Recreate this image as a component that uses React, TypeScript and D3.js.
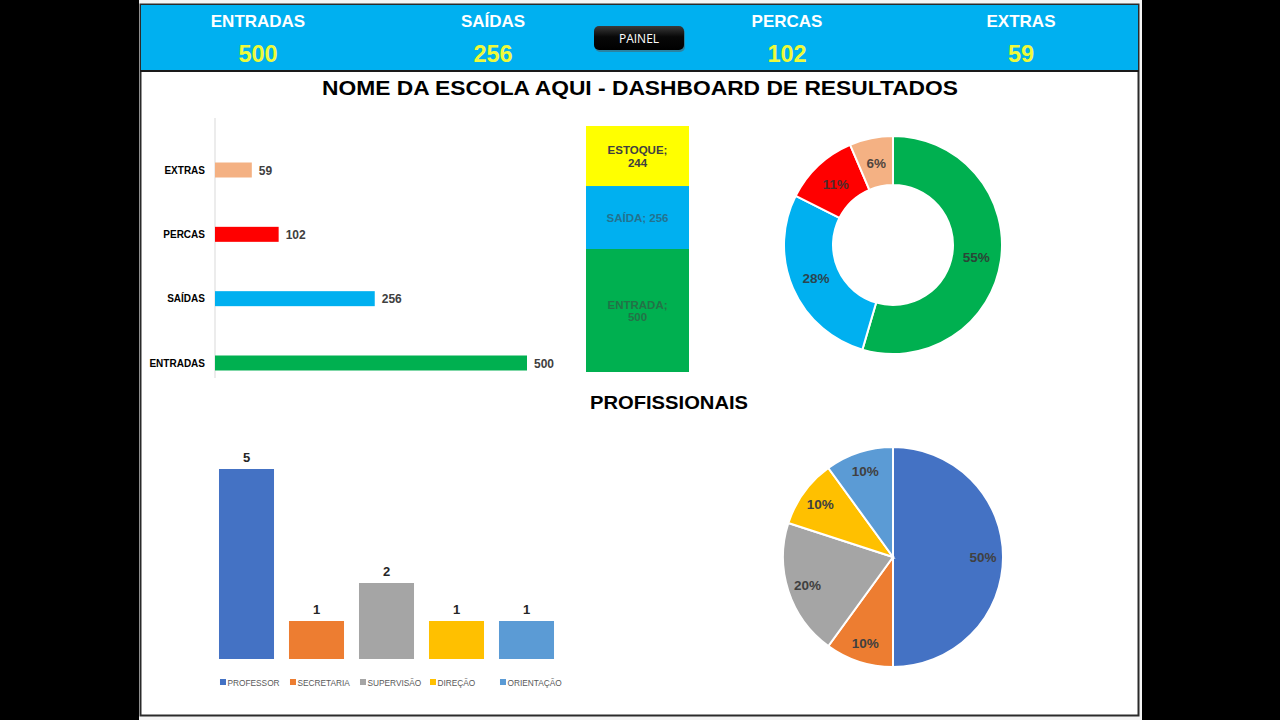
import React from "react";
import * as d3 from "d3";

const headerLabels = ["ENTRADAS", "SAÍDAS", "PERCAS", "EXTRAS"];
const headerValues = [500, 256, 102, 59];

const barCats = ["ENTRADAS", "SAÍDAS", "PERCAS", "EXTRAS"];
const barValues = [500, 256, 102, 59];
const barColors = ["#00B050", "#00B0F0", "#FF0000", "#F4B183"];

const stackCats = ["ENTRADA", "SAÍDA", "ESTOQUE"];
const stackValues = [500, 256, 244];
const stackColors = ["#00B050", "#00B0F0", "#FFFF00"];

const donutCats = ["ENTRADAS", "SAÍDAS", "PERCAS", "EXTRAS"];
const donutValues = [500, 256, 102, 59];
const donutColors = ["#00B050", "#00B0F0", "#FF0000", "#F4B183"];

const profCats = ["PROFESSOR", "SECRETARIA", "SUPERVISÃO", "DIREÇÃO", "ORIENTAÇÃO"];
const profValues = [5, 1, 2, 1, 1];
const profColors = ["#4472C4", "#ED7D31", "#A5A5A5", "#FFC000", "#5B9BD5"];

const FONT = "'Liberation Sans', Arial, sans-serif";

export default function App() {
  // Horizontal bars
  const hx = d3.scaleLinear().domain([0, 500]).range([215, 527]);
  const hy = d3.scalePoint<string>().domain(barCats).range([363, 170]);

  // Stacked column
  const sy = d3.scaleLinear().domain([0, 1000]).range([372, 126]);
  const cum: number[] = [];
  stackValues.reduce((a, v, i) => { cum[i] = a; return a + v; }, 0);

  // Donut
  const pie = d3.pie<number>().sort(null).value((d) => d);
  const donutArcs = pie(donutValues);
  const donutTotal = d3.sum(donutValues);
  const donutArc = d3.arc<d3.PieArcDatum<number>>().innerRadius(60).outerRadius(109);
  const donutLabel = d3.arc<d3.PieArcDatum<number>>().innerRadius(84).outerRadius(84);

  // Column chart
  const cx = d3.scaleBand<string>().domain(profCats).range([211.5, 561.5]).paddingInner(0.214).paddingOuter(0.107);
  const cy = d3.scaleLinear().domain([0, 5]).range([659, 469]);

  // Pie
  const pieArcs = pie(profValues);
  const profTotal = d3.sum(profValues);
  const pieArc = d3.arc<d3.PieArcDatum<number>>().innerRadius(0).outerRadius(110);
  const pieLabel = d3.arc<d3.PieArcDatum<number>>().innerRadius(90).outerRadius(90);

  const headerX = [258, 493, 787, 1021];
  const pct = d3.format(".0%");

  return (
    <div style={{ position: "absolute", left: 0, top: 0 }}>
      <svg width={1280} height={720} style={{ display: "block" }} fontFamily={FONT}>
        <defs>
          <linearGradient id="btn" x1="0" y1="0" x2="0" y2="1">
            <stop offset="0" stopColor="#3a3a3a" />
            <stop offset="0.45" stopColor="#080808" />
            <stop offset="1" stopColor="#000" />
          </linearGradient>
        </defs>
        <rect x={0} y={0} width={1280} height={720} fill="#000" />
        <rect x={139} y={0} width={1003} height={720} fill="#f4f4f4" />
        <rect x={140.5} y={4.5} width={998} height={711} fill="#fff" stroke="#2a2a2a" strokeWidth={2} />
        {/* Header */}
        <rect x={141} y={5} width={997} height={66} fill="#00B0F0" />
        <line x1={140} x2={1139} y1={71} y2={71} stroke="#1a1a1a" strokeWidth={2} />
        {headerLabels.map((l, i) => (
          <g key={l}>
            <text x={headerX[i]} y={26.5} textAnchor="middle" fill="#fff" fontWeight="bold" fontSize={17}>{l}</text>
            <text x={headerX[i]} y={61.5} textAnchor="middle" fill="#EEFA3A" fontWeight="bold" fontSize={23.5}>{headerValues[i]}</text>
          </g>
        ))}
        <rect x={595} y={28} width={90} height={24} rx={5} fill="#555" opacity={0.5} />
        <rect x={594} y={26} width={90} height={24} rx={5} fill="url(#btn)" />
        <text x={639} y={42.5} textAnchor="middle" fill="#fff" fontSize={12} fontFamily="'Open Sans', sans-serif">PAINEL</text>

        {/* Title */}
        <text x={640} y={94.5} textAnchor="middle" fontWeight="bold" fontSize={20} fill="#000" textLength={636} lengthAdjust="spacingAndGlyphs">NOME DA ESCOLA AQUI - DASHBOARD DE RESULTADOS</text>

        {/* Horizontal bar chart */}
        <line x1={215} x2={215} y1={118} y2={378} stroke="#d9d9d9" strokeWidth={1} />
        {barCats.map((c, i) => {
          const y = hy(c)!;
          return (
            <g key={c}>
              <rect x={hx(0)} y={y - 7.5} width={hx(barValues[i]) - hx(0)} height={15} fill={barColors[i]} />
              <text x={205} y={y + 3.5} textAnchor="end" fontWeight="bold" fontSize={10} fill="#000">{c}</text>
              <text x={hx(barValues[i]) + 7} y={y + 4.5} fontWeight="bold" fontSize={12} fill="#404040">{barValues[i]}</text>
            </g>
          );
        })}

        {/* Stacked column */}
        {stackCats.map((c, i) => {
          const y0 = sy(cum[i]);
          const y1 = sy(cum[i] + stackValues[i]);
          const mid = (y0 + y1) / 2;
          const oneLine = c === "SAÍDA";
          const op = i === 2 ? 1 : 0.55;
          return (
            <g key={c}>
              <rect x={586} y={y1} width={103} height={y0 - y1} fill={stackColors[i]} />
              {oneLine ? (
                <text x={637.5} y={mid + 4} textAnchor="middle" fontWeight="bold" fontSize={11.5} fill="#404040" opacity={op}>{`${c}; ${stackValues[i]}`}</text>
              ) : (
                <text x={637.5} y={mid - 2} textAnchor="middle" fontWeight="bold" fontSize={11.5} fill="#404040" opacity={op}>
                  <tspan x={637.5}>{`${c};`}</tspan>
                  <tspan x={637.5} dy={12.5}>{stackValues[i]}</tspan>
                </text>
              )}
            </g>
          );
        })}

        {/* Donut */}
        <g transform="translate(893,245)">
          {donutArcs.map((a, i) => (
            <path key={donutCats[i]} d={donutArc(a)!} fill={donutColors[i]} stroke="#fff" strokeWidth={2} />
          ))}
          {donutArcs.map((a, i) => {
            const [lx, ly] = donutLabel.centroid(a);
            return (
              <text key={donutCats[i]} x={lx} y={ly + 5} textAnchor="middle" fontWeight="bold" fontSize={13.5} fill="#333" opacity={0.85}>
                {pct(donutValues[i] / donutTotal)}
              </text>
            );
          })}
        </g>

        {/* Section title */}
        <text x={669} y={408.5} textAnchor="middle" fontWeight="bold" fontSize={19} fill="#000" textLength={158} lengthAdjust="spacingAndGlyphs">PROFISSIONAIS</text>

        {/* Column chart */}
        {profCats.map((c, i) => {
          const x = cx(c)!;
          const w = cx.bandwidth();
          const y = cy(profValues[i]);
          return (
            <g key={c}>
              <rect x={x} y={y} width={w} height={cy(0) - y} fill={profColors[i]} />
              <text x={x + w / 2} y={y - 7.5} textAnchor="middle" fontWeight="bold" fontSize={13} fill="#262626">{profValues[i]}</text>
              <rect x={x + 1} y={679} width={6} height={6} fill={profColors[i]} />
              <text x={x + 8.5} y={685.5} fontSize={8.3} fill="#595959">{c}</text>
            </g>
          );
        })}

        {/* Pie */}
        <g transform="translate(893,557)">
          {pieArcs.map((a, i) => (
            <path key={profCats[i]} d={pieArc(a)!} fill={profColors[i]} stroke="#fff" strokeWidth={2} />
          ))}
          {pieArcs.map((a, i) => {
            const [lx, ly] = pieLabel.centroid(a);
            return (
              <text key={profCats[i]} x={lx} y={ly + 5} textAnchor="middle" fontWeight="bold" fontSize={13.5} fill="#404040">
                {pct(profValues[i] / profTotal)}
              </text>
            );
          })}
        </g>
      </svg>
    </div>
  );
}
